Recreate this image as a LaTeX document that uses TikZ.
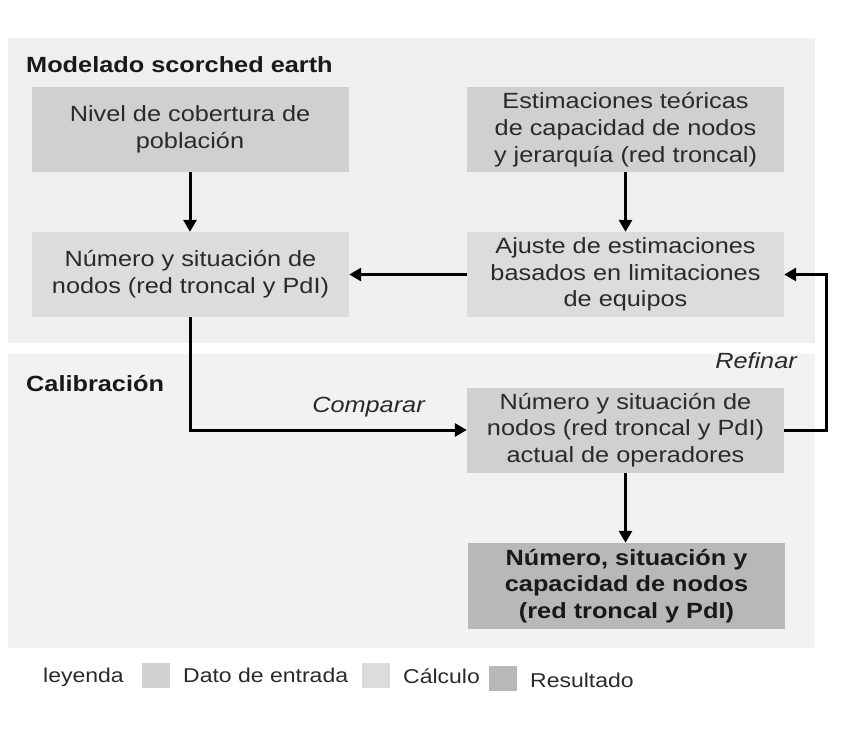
\documentclass[tikz,border=0pt]{standalone}
\usepackage{fontspec}
\setmainfont{Liberation Sans}[FakeStretch=1.15]
\usetikzlibrary{positioning}
\usetikzlibrary{arrows.meta}
\definecolor{panelmod}{HTML}{EFEFEF}
\definecolor{panelcal}{HTML}{F2F2F2}
\definecolor{entrada}{HTML}{D0D0D0}
\definecolor{calculo}{HTML}{DCDCDC}
\definecolor{resultado}{HTML}{B8B8B8}
\definecolor{texto}{HTML}{2A2A2A}
\tikzset{
    box/.style = {rectangle, inner sep=0pt, align=center, minimum width=317pt, minimum height=85pt,
                  text=texto, font=\fontsize{22}{26.7}\selectfont},
    boxin/.style = {box, fill=entrada},
    boxcalc/.style = {box, fill=calculo},
    boxres/.style = {box, fill=resultado, text=black!90, font=\fontsize{22}{26.7}\selectfont\bfseries},
    title/.style = {anchor=base west, inner sep=0pt, text=black!90, font=\fontsize{22}{26}\selectfont\bfseries},
    edgelabel/.style = {inner sep=0pt, text=texto, font=\fontsize{22}{26}\selectfont\itshape},
    legbox/.style = {rectangle, inner sep=0pt, minimum width=28pt, minimum height=25pt},
    legtext/.style = {anchor=base west, inner sep=0pt, text=texto, font=\fontsize{20}{24}\selectfont},
    edgen/.style = {-{Triangle[length=12pt,width=13pt]}, line width=3pt, black}
}
\begin{document}
\begin{tikzpicture}[x=1pt,y=-1pt]
  \useasboundingbox[fill=white] (0,0) rectangle (845,733);
  % panels
  \fill[panelmod] (8,38) rectangle (815,343);
  \fill[panelcal] (8,354) rectangle (815,648);
  \node[title] (tmod) at (26,73) {Modelado scorched earth};
  \node[title] (tcal) at (26,391) {Calibración};

  % boxes
  \node[boxin] (a) at (190,129.5) {Nivel de cobertura de\\población};
  \node[boxin] (b) at (625.5,129.5) {Estimaciones teóricas\\de capacidad de nodos\\y jerarquía (red troncal)};
  \node[boxcalc] (c) at (190.5,274.5) {Número y situación de\\nodos (red troncal y PdI)};
  \node[boxcalc] (d) at (625.5,274.5) {Ajuste de estimaciones\\basados en limitaciones\\de equipos};
  \node[boxin] (e) at (625.5,430) {Número y situación de\\nodos (red troncal y PdI)\\actual de operadores};
  \node[boxres, minimum height=86pt] (f) at (626.5,586) {Número, situación y\\capacidad de nodos\\(red troncal y PdI)};

  % connectors
  \coordinate (ref) at (826,430);
  \draw[edgen] (a.south) -- (a.south |- c.north);
  \draw[edgen] (b.south) -- (b.south |- d.north);
  \draw[edgen] (d.west) -- (c.east);
  \draw[edgen] (c.south) |- (e.west);
  \draw[edgen] (e.east) -- (ref) |- (d.east);
  \draw[edgen] (e.south) -- (e.south |- f.north);
  \node[edgelabel, anchor=base] (lcomp) at (368.5,412) {Comparar};
  \node[edgelabel, anchor=base east] (lref) at (797,368) {Refinar};

  % legend
  \node[legtext] (ley) at (43,682) {leyenda};
  \node[legbox, fill=entrada] (q1) at (156,675) {};
  \node[legtext] (l1) at (183,682) {Dato de entrada};
  \node[legbox, fill=calculo] (q2) at (376,675.5) {};
  \node[legtext] (l2) at (403,683) {Cálculo};
  \node[legbox, fill=resultado] (q3) at (502.5,678.5) {};
  \node[legtext] (l3) at (530,687) {Resultado};
\end{tikzpicture}
\end{document}
